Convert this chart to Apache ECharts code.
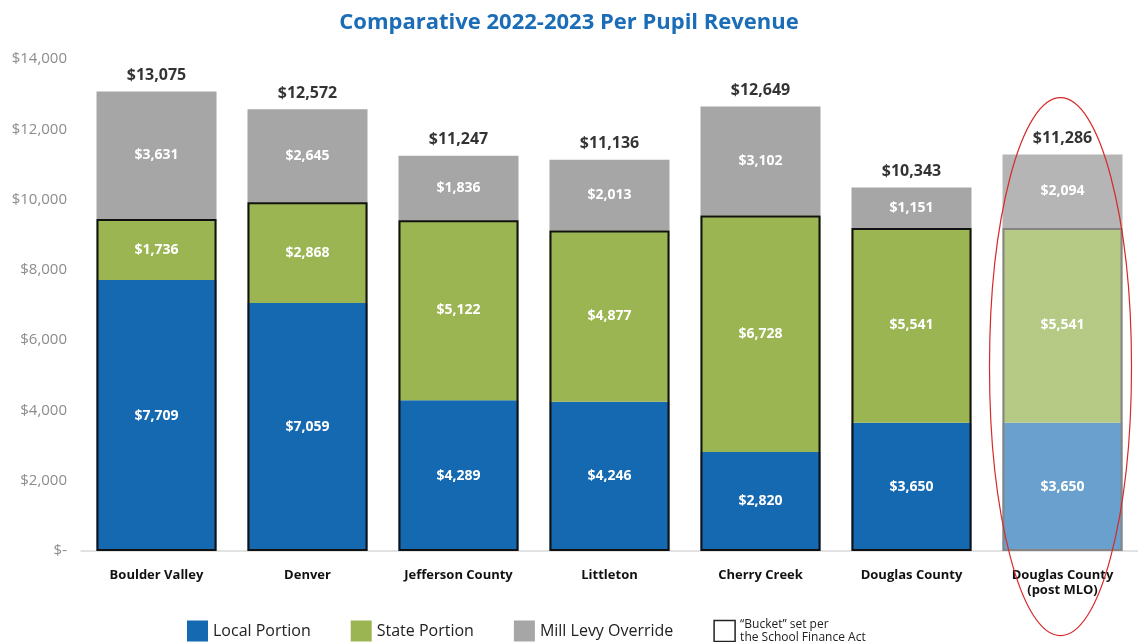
<!DOCTYPE html>
<html>
<head>
<meta charset="utf-8">
<script src="https://cdn.jsdelivr.net/npm/echarts@6/dist/echarts.min.js"></script>
<style>
  html, body { margin: 0; padding: 0; background: #fff; }
  #main { width: 1138px; height: 642px; }
</style>
</head>
<body>
<div id="main"></div>
<script>
var districts = ['Boulder Valley', 'Denver', 'Jefferson County', 'Littleton', 'Cherry Creek', 'Douglas County', 'Douglas County\n(post MLO)'];
var localPortion = [7709, 7059, 4289, 4246, 2820, 3650, 3650];
var statePortion = [1736, 2868, 5122, 4877, 6728, 5541, 5541];
var millLevy = [3631, 2645, 1836, 2013, 3102, 1151, 2094];
var totals = [13075, 12572, 11247, 11136, 12649, 10343, 11286];
var yTicks = [0, 2000, 4000, 6000, 8000, 10000, 12000, 14000];

var FONT = '"Open Sans", sans-serif';
var money = function (v) { return '$' + Number(v).toLocaleString('en-US'); };
var last = districts.length - 1;

// the last bar (post MLO) uses faded colours
function faded(arr, normal, light) {
  return arr.map(function (v, i) {
    return { value: v, itemStyle: { color: i === last ? light : normal } };
  });
}

// "bucket" = local + state, drawn as outline only
var bucket = localPortion.map(function (v, i) {
  return {
    value: v + statePortion[i],
    itemStyle: { borderColor: i === last ? '#858585' : '#111' }
  };
});

var insideLabel = {
  show: true,
  position: 'inside',
  color: '#fff',
  fontWeight: 'bold',
  fontSize: 14,
  fontFamily: FONT,
  formatter: function (p) { return money(p.value); }
};

var myChart = echarts.init(document.getElementById('main'));

option = {
  animation: false,
  title: {
    text: 'Comparative 2022-2023 Per Pupil Revenue',
    left: 'center',
    top: 7,
    textStyle: { color: '#1b6db8', fontSize: 22, fontWeight: 'bold', fontFamily: FONT }
  },
  legend: {
    left: 182,
    top: 613,
    icon: 'rect',
    itemWidth: 21,
    itemHeight: 21,
    itemGap: 40,
    textStyle: { fontSize: 16, color: '#222', fontFamily: FONT },
    data: [
      { name: 'Local Portion' },
      { name: 'State Portion' },
      { name: 'Mill Levy Override' },
      {
        name: '“Bucket” set per\nthe School Finance Act',
        itemStyle: { color: '#fff', borderColor: '#222', borderWidth: 1.5 },
        textStyle: { fontSize: 12, lineHeight: 13 }
      }
    ]
  },
  grid: { left: 81, top: 59, width: 1063, height: 492 },
  xAxis: {
    type: 'category',
    data: districts,
    axisLine: { lineStyle: { color: '#d9d9d9', width: 1.5 } },
    axisTick: { show: false },
    axisLabel: {
      margin: 17,
      color: '#111',
      fontWeight: 'bold',
      fontSize: 13,
      lineHeight: 15,
      fontFamily: FONT
    }
  },
  yAxis: {
    type: 'value',
    min: yTicks[0],
    max: yTicks[yTicks.length - 1],
    interval: 2000,
    splitLine: { show: false },
    axisLine: { show: false },
    axisLabel: {
      margin: 14,
      color: '#8c8c8c',
      fontSize: 15,
      fontFamily: FONT,
      formatter: function (v) { return v === 0 ? '$-' : money(v); }
    }
  },
  series: [
    {
      name: 'Local Portion',
      type: 'bar',
      stack: 'rev',
      barWidth: 120,
      barGap: '-100%',
      itemStyle: { color: '#1569b1' },
      label: insideLabel,
      data: faded(localPortion, '#1569b1', '#6aa0cd')
    },
    {
      name: 'State Portion',
      type: 'bar',
      stack: 'rev',
      barWidth: 120,
      itemStyle: { color: '#9bb553' },
      label: insideLabel,
      data: faded(statePortion, '#9bb553', '#b6c985')
    },
    {
      name: 'Mill Levy Override',
      type: 'bar',
      stack: 'rev',
      barWidth: 120,
      itemStyle: { color: '#a6a6a6' },
      label: insideLabel,
      data: faded(millLevy, '#a6a6a6', '#b5b5b5')
    },
    {
      name: '“Bucket” set per\nthe School Finance Act',
      type: 'bar',
      barWidth: 120,
      barGap: '-100%',
      z: 5,
      itemStyle: { color: 'rgba(0,0,0,0)', borderColor: '#111', borderWidth: 2 },
      data: bucket
    },
    {
      name: 'Total',
      type: 'scatter',
      symbolSize: 0,
      silent: true,
      label: {
        show: true,
        position: 'top',
        distance: 8,
        color: '#000',
        fontWeight: 'bold',
        fontSize: 16,
        fontFamily: FONT,
        formatter: function (p) { return money(p.value); }
      },
      data: totals
    }
  ]
};

myChart.setOption(option);

// red ellipse highlighting the post-MLO bar
var c = myChart.convertToPixel({ seriesIndex: 0 }, [last, 0]);
var t = myChart.convertToPixel({ seriesIndex: 0 }, [last, totals[last]]);
myChart.setOption({
  graphic: [{
    type: 'ellipse',
    shape: { cx: c[0] - 2, cy: (c[1] + t[1]) / 2 + 14, rx: 71, ry: 269 },
    style: { fill: 'none', stroke: '#d62a2a', lineWidth: 1.2 },
    z: 100
  }]
});
</script>
</body>
</html>
